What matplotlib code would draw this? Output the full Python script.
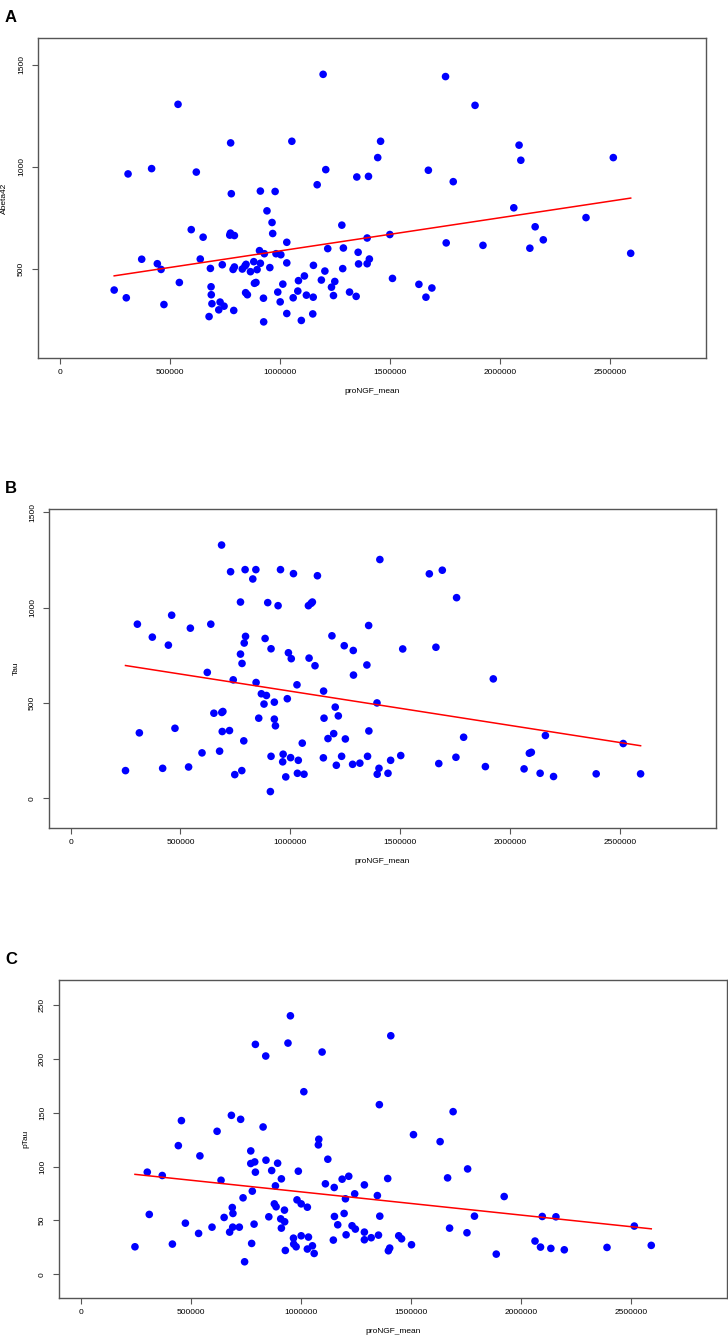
import numpy as np
import matplotlib.pyplot as plt
from matplotlib.ticker import FixedLocator

plt.rcParams['font.family'] = ['Liberation Sans', 'DejaVu Sans']

# proNGF_mean (x1000) vs Abeta42 -- painel A
xa = [248, 303, 311, 373, 418, 444, 461, 474, 538, 544, 598, 621, 639, 652,
      679, 685, 688, 689, 692, 723, 729, 739, 747, 773, 776, 777, 780, 788,
      794, 791, 794, 830, 842, 845, 853, 847, 867, 882, 885, 892, 897, 908,
      912, 912, 927, 926, 930, 942, 955, 965, 968, 979, 983, 991, 1002, 1005,
      1014, 1032, 1032, 1032, 1055, 1061, 1082, 1085, 1098, 1112, 1121, 1150,
      1152, 1153, 1170, 1189, 1197, 1205, 1209, 1218, 1235, 1244, 1250, 1282,
      1286, 1289, 1317, 1347, 1350, 1356, 1358, 1397, 1397, 1407, 1403, 1445,
      1458, 1500, 1512, 1632, 1664, 1691, 1675, 1753, 1756, 1788, 1887, 1923,
      2063, 2087, 2095, 2136, 2160, 2197, 2391, 2515, 2594]
ya = [397, 359, 966, 548, 992, 526, 498, 326, 1307, 434, 693, 975, 549, 656,
      267, 503, 413, 374, 330, 300, 338, 521, 318, 666, 676, 1118, 869, 498,
      510, 297, 664, 500, 515, 384, 374, 523, 487, 536, 430, 434, 497, 590,
      882, 528, 241, 357, 575, 785, 507, 728, 674, 880, 575, 387, 339, 570,
      426, 631, 530, 282, 1126, 359, 392, 443, 248, 466, 372, 280,
      362, 518, 913, 446, 1454, 490, 987, 600, 411, 370, 439, 715,
      502, 603, 387, 366, 951, 582, 525, 652, 526, 549, 954, 1046,
      1126, 669, 454, 425, 362, 407, 984, 1443, 628, 928, 1302, 616,
      800, 1107, 1033, 602, 707, 643, 752, 1046, 577]

# painel B: Tau
xb = [250, 304, 313, 372, 419, 445, 460, 475, 537, 545, 598, 622, 638, 652,
      678, 687, 688, 693, 690, 723, 728, 740, 747, 773, 773, 779, 780, 788,
      790, 794, 796, 829, 843, 844, 856, 868, 880, 885, 891, 897, 909, 912,
      912, 927, 927, 932, 944, 955, 967, 965, 979, 986, 991, 1001, 1004, 1014,
      1030, 1032, 1036, 1054, 1062, 1082, 1085, 1094, 1100, 1112, 1123, 1150,
      1151, 1153, 1171, 1189, 1197, 1204, 1209, 1218, 1233, 1245, 1250, 1283,
      1286, 1287, 1316, 1348, 1351, 1356, 1357, 1394, 1395, 1403, 1407, 1444,
      1456, 1502, 1511, 1632, 1662, 1675, 1691, 1753, 1756, 1788, 1887, 1923,
      2063, 2087, 2096, 2136, 2160, 2197, 2391, 2514, 2593]
yb = [145, 913, 343, 845, 157, 803, 960, 367, 164, 892, 238, 660, 913, 446,
      247, 1328, 450, 455, 350, 355, 1188, 621, 124, 756, 1029, 145, 707, 301,
      814, 1199, 849, 1150, 1199, 607, 420, 548, 494, 838, 539, 1026, 35, 220,
      784, 504, 415, 380, 1010, 1199, 231, 191, 112, 522, 763, 213, 732, 1178,
      595, 131, 199, 289, 126, 1010, 735, 1022, 1029, 695, 1167, 212,
      562, 420, 313, 852, 339, 478, 173, 432, 220, 800, 311, 178,
      775, 646, 184, 699, 220, 906, 353, 500, 126, 157, 1252, 131,
      199, 224, 783, 1177, 792, 182, 1196, 215, 1052, 320, 166, 626,
      154, 236, 241, 131, 329, 114, 128, 287, 128]

# painel C: pTau
xc = [247, 303, 312, 371, 417, 444, 458, 476, 536, 542, 597, 620, 638, 652,
      677, 685, 689, 692, 691, 721, 727, 738, 745, 773, 773, 777, 780, 788,
      791, 794, 794, 829, 841, 842, 855, 868, 880, 885, 888, 895, 909, 912,
      912, 926, 927, 930, 942, 953, 967, 968, 979, 983, 989, 1002, 1002, 1014,
      1030, 1030, 1035, 1053, 1061, 1080, 1082, 1097, 1112, 1123, 1148, 1152,
      1153, 1168, 1188, 1197, 1203, 1206, 1218, 1233, 1245, 1248, 1289, 1289,
      1289, 1320, 1348, 1353, 1357, 1359, 1395, 1398, 1404, 1409, 1445, 1458,
      1503, 1512, 1633, 1667, 1676, 1692, 1755, 1758, 1789, 1888, 1924, 2064,
      2089, 2097, 2136, 2159, 2197, 2391, 2515, 2592]
yc = [25.6, 94.8, 55.6, 91.7, 28.1, 119.4, 142.6, 47.5, 38.0, 109.9, 43.8,
      132.7, 87.3, 52.8, 39.2, 147.5, 62.0, 56.5, 43.8, 43.8, 143.8, 71.0,
      11.7, 102.8, 114.5, 28.7, 77.2, 46.6, 104.3, 213.3, 94.8, 136.7, 202.5,
      105.9, 53.4, 96.3, 65.4, 82.1, 62.7, 103.1, 51.5, 88.6, 42.9, 59.6,
      48.8, 22.2, 214.5, 239.8, 33.6, 28.1, 25.6, 69.1, 95.7, 65.4, 35.8,
      169.4, 62.3, 23.5, 34.6, 26.5, 19.4, 120.1, 125.3, 206.2, 84.0, 106.8,
      31.8, 80.6, 53.7, 46.0, 88.3, 56.5, 70.1, 36.7, 91.0, 45.1, 74.7, 42.0,
      83.0, 39.2, 32.1, 34.0, 73.1, 36.4, 157.4, 54.0, 88.9, 21.9, 24.4,
      221.3, 35.8, 33.0, 27.5, 129.6, 123.1, 89.5, 42.9, 150.9, 38.6, 97.8,
      54.0, 18.8, 72.2, 30.9, 25.3, 53.7, 24.1, 53.4, 22.8, 25.0, 44.8, 26.9]

xticks = [0, 500000, 1000000, 1500000, 2000000, 2500000]

paineis = [
    # letra, x, y, ylabel, yticks, ylim, posicao
    ("A", xa, ya, "Abeta42", [500, 1000, 1500], (64, 1632),
     [38, 38, 706, 358]),
    ("B", xb, yb, "Tau", [0, 500, 1000, 1500], (-156, 1517),
     [49, 509, 716, 828]),
    ("C", xc, yc, "pTau", [0, 50, 100, 150, 200, 250], (-21.9, 273),
     [59, 980, 727, 1298]),
]

W, H = 728, 1339
fig = plt.figure(figsize=(W / 100, H / 100), dpi=100)
cinza = "#555555"

for letra, x, y, ylab, yt, ylim, (l, t, r, b) in paineis:
    ax = fig.add_axes([l / W, 1 - b / H, (r - l) / W, (b - t) / H])
    x = np.array(x) * 1000.0
    y = np.array(y)

    ax.scatter(x, y, s=30, color="#0000ff", edgecolors="none", zorder=3)

    # reta de regressao linear
    coef = np.polyfit(x, y, 1)
    xl = np.array([x.min(), x.max()])
    ax.plot(xl, np.polyval(coef, xl), color="#ff0000", lw=1.1, zorder=4)

    ax.set_xlim(-98000, 2936000)
    ax.set_ylim(*ylim)
    ax.xaxis.set_major_locator(FixedLocator(xticks))
    ax.set_xticklabels([str(v) for v in xticks])
    ax.yaxis.set_major_locator(FixedLocator(yt))
    ax.set_yticklabels([str(v) for v in yt], rotation=90, va="center")

    ax.tick_params(length=4.3, width=0.8, color=cinza, labelsize=6,
                   labelcolor="black")
    ax.tick_params(axis="x", pad=3.5)
    ax.tick_params(axis="y", pad=5)
    for s in ax.spines.values():
        s.set_color(cinza)
        s.set_linewidth(1.0)

    ax.set_xlabel("proNGF_mean", fontsize=6, labelpad=9)
    ax.set_ylabel(ylab, fontsize=6, labelpad=7)

    fig.text(5 / W, 1 - (t - 16) / H, letra, fontsize=12, fontweight="bold",
             ha="left", va="baseline")

plt.savefig("out.png", dpi=100)
